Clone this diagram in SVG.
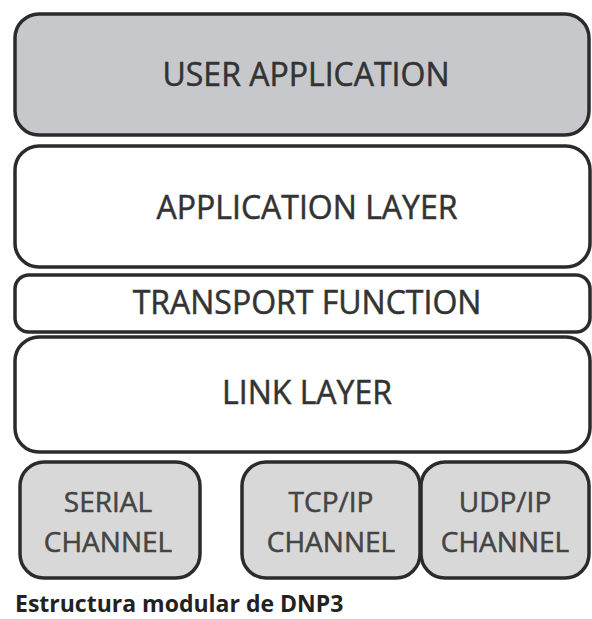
<svg xmlns="http://www.w3.org/2000/svg" width="592" height="619" viewBox="0 0 592 619">
  <style>
    .box { stroke: #2b2b2b; stroke-width: 3.5; }
    .top { fill: #c6c8cb; }
    .plain { fill: #ffffff; }
    .chan { fill: #d8d8d8; }
    .lbl { font-family: "Open Sans", "Liberation Sans", sans-serif; fill: #333333; stroke: #333333; stroke-width: 0.5; text-anchor: middle; }
    .big { font-size: 32px; }
    .small { font-size: 28px; fill: #444444; stroke: #444444; }
    .cap { font-family: "Open Sans", "Liberation Sans", sans-serif; font-weight: bold; font-size: 23px; fill: #222222; }
  </style>
  <rect width="592" height="619" fill="#ffffff"/>

  <g id="user-application">
    <rect class="box top" x="15" y="14" width="574" height="121" rx="24"/>
    <text class="lbl big" x="306" y="86">USER APPLICATION</text>
  </g>

  <g id="application-layer">
    <rect class="box plain" x="15" y="146" width="575" height="121" rx="24"/>
    <text class="lbl big" x="307" y="219">APPLICATION LAYER</text>
  </g>

  <g id="transport-function">
    <rect class="box plain" x="15" y="275" width="575" height="57" rx="14"/>
    <text class="lbl big" x="307" y="314">TRANSPORT FUNCTION</text>
  </g>

  <g id="link-layer">
    <rect class="box plain" x="15" y="337" width="575" height="115" rx="24"/>
    <text class="lbl big" x="307" y="404">LINK LAYER</text>
  </g>

  <g id="serial-channel">
    <rect class="box chan" x="20" y="462" width="180" height="116" rx="24"/>
    <text class="lbl small" x="108" y="512">SERIAL</text>
    <text class="lbl small" x="108" y="552">CHANNEL</text>
  </g>

  <g id="tcpip-channel">
    <rect class="box chan" x="242" y="462" width="178" height="116" rx="24"/>
    <text class="lbl small" x="331" y="512">TCP/IP</text>
    <text class="lbl small" x="331" y="552">CHANNEL</text>
  </g>

  <g id="udpip-channel">
    <rect class="box chan" x="421" y="462" width="168" height="116" rx="24"/>
    <text class="lbl small" x="505" y="512">UDP/IP</text>
    <text class="lbl small" x="505" y="552">CHANNEL</text>
  </g>

  <g id="connectors"/>

  <text class="cap" x="15" y="612">Estructura modular de DNP3</text>
</svg>
